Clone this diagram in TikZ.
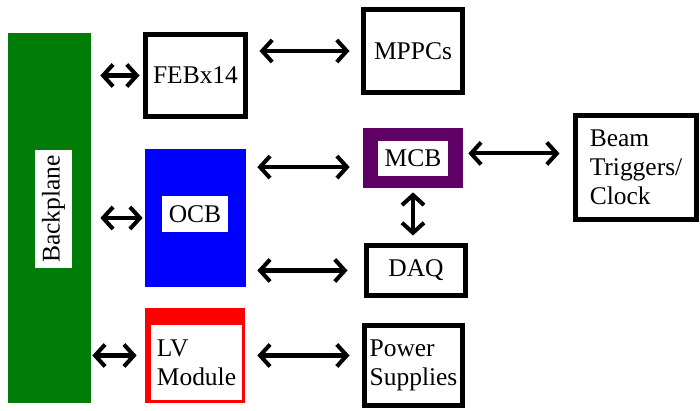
\documentclass[tikz,border=0pt]{standalone}
\usepackage{fontspec}
\setmainfont{Liberation Serif}
\newfontfamily\boxfont{Liberation Serif}
\usepackage{tikz}
\usetikzlibrary{arrows.meta, calc}

\definecolor{bpgreen}{RGB}{0,124,8}
\definecolor{mcbpurple}{RGB}{94,0,100}

\begin{document}
\begin{tikzpicture}[
    x=0.02cm, y=-0.02cm,
    every node/.style={font=\boxfont\fontsize{14.5}{16.5}\selectfont, inner sep=0pt},
    blk/.style={draw, line width=2.85pt, fill=white, align=left},
    card/.style={fill=#1, minimum width=2cm},
    tag/.style={fill=white, minimum width=1.4cm, minimum height=0.7cm},
    link/.style={{Straight Barb[length=0.2cm, width=0.44cm]}-{Straight Barb[length=0.2cm, width=0.44cm]},
                 line width=2.3pt, shorten <=0.24cm, shorten >=0.24cm}
]
\useasboundingbox (0,0) rectangle (700,411);

% backplane on the left
\node[fill=bpgreen, minimum width=1.66cm, minimum height=7.4cm] (backplane) at (49.5,218) {};
\node[fill=white, rotate=90, minimum width=2.36cm, minimum height=0.74cm] (bplabel) at (53.5,209) {Backplane};

% boards
\node[blk, minimum width=2cm, minimum height=1.64cm] (feb) at (195.5,75.5) {FEBx14};
\node[card=blue, minimum width=2.02cm, minimum height=2.76cm] (ocb) at (195.5,218) {};
\node[tag, minimum width=1.32cm, minimum height=0.72cm] (ocblabel) at (195,214) {OCB};
\node[card=red, minimum height=1.9cm] (lv) at (195,355.5) {};
\node[fill=white, align=left, minimum width=1.82cm, minimum height=1.5cm] (lvlabel) at (196.5,362.5) {LV\\Module};

% outside world
\node[blk, minimum width=1.98cm, minimum height=1.66cm] (mppc) at (413,51) {MPPCs};
\node[card=mcbpurple, minimum height=1.2cm] (mcb) at (413,158) {};
\node[tag] (mcblabel) at (413,158.5) {MCB};
\node[blk, minimum width=1.98cm, minimum height=1cm] (daq) at (416,270.5) {DAQ};
\node[blk, minimum width=1.96cm, minimum height=1.6cm] (power) at (413.5,365.5) {Power\\Supplies};
\node[blk, minimum width=2.42cm, minimum height=2.08cm] (beam) at (636,167.5) {Beam\\Triggers/\\Clock};

\coordinate (mcbin) at ($(mcb.west)!0.3!(mcb.south west)$);
\coordinate (mcbout) at ($(mcb.east)!0.15!(mcb.north east)$);

\draw[link, shorten <=0.18cm, shorten >=0.07cm] (backplane.east |- feb.west) -- (feb.west);
\draw[link, shorten <=0.18cm, shorten >=0.04cm] (backplane.east |- ocb.west) -- (ocb.west);
\draw[link, shorten <=0.02cm, shorten >=0.16cm] (backplane.east |- lv.west) -- (lv.west);
\draw[link, shorten <=0.23cm, shorten >=0.23cm] (feb.east |- mppc.west) -- (mppc.west);
\draw[link, shorten <=0.22cm, shorten >=0.26cm] (ocb.east |- mcbin) -- (mcbin);
\draw[link, shorten <=0.22cm, shorten >=0.33cm] (ocb.east |- daq.west) -- (daq.west);
\draw[link, shorten <=0.08cm, shorten >=0.15cm] (mcb.south) -- (mcb.south |- daq.north);
\draw[link, shorten <=0.1cm, shorten >=0.27cm] (mcbout) -- (mcbout -| beam.west);
\draw[link, shorten <=0.24cm, shorten >=0.25cm] (lv.east) -- (lv.east -| power.west);
\end{tikzpicture}
\end{document}
